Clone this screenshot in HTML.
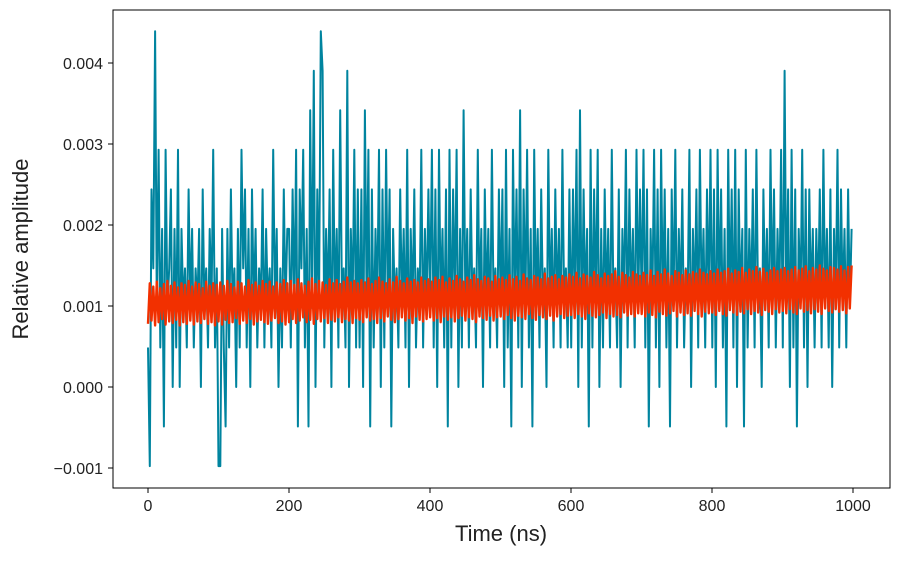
<!DOCTYPE html>
<html><head><meta charset="utf-8"><style>
body{margin:0;background:#fff;}
svg text{font-family:"Liberation Sans",sans-serif;fill:#222;}
</style></head><body>
<svg id="chart" width="897" height="556" xmlns="http://www.w3.org/2000/svg">
<rect x="0" y="0" width="897" height="556" fill="#fff"/>
<g id="series"></g>
<rect x="113" y="10" width="777" height="478" fill="none" stroke="#000" stroke-width="1"/>
<g id="axes"></g>
<text x="501" y="541" font-size="22" text-anchor="middle">Time (ns)</text>
<text transform="translate(28,249) rotate(-90)" font-size="22" text-anchor="middle">Relative amplitude</text>
</svg>
<script>
const xTicks=[0,200,400,600,800,1000];
const yTicks=[-1,0,1,2,3,4];
const yTickLabels=["−0.001","0.000","0.001","0.002","0.003","0.004"];
// measured signal in quantization levels (1 level = 0.000488)
const measuredStep=0.488;
const measuredLevels=[1,-2,5,3,9,2,6,1,4,-1,6,2,3,5,0,4,1,6,0,4,2,3,1,5,2,4,1,3,2,4,0,5,2,3,1,4,2,6,1,3,
-2,-2,4,1,-1,4,1,5,2,3,0,4,1,6,3,5,1,4,0,5,2,4,1,3,2,5,1,4,2,3,1,6,2,4,0,3,1,5,2,4,
4,1,5,2,6,-1,5,3,6,1,4,-1,7,2,8,0,5,2,9,8,1,4,2,5,0,6,2,4,1,7,2,3,1,8,0,4,2,6,1,5,
1,5,0,7,2,6,-1,5,1,4,2,6,0,5,1,6,2,5,-1,4,2,3,1,5,2,4,1,6,0,4,2,5,1,3,2,6,1,4,2,5,
2,6,1,5,0,6,2,4,1,5,-1,6,1,5,2,6,0,4,1,7,2,4,1,5,2,3,1,6,2,4,0,5,2,4,1,6,2,3,1,5,
2,5,0,6,1,4,-1,6,2,5,1,7,0,5,2,6,1,4,-1,6,2,4,1,5,2,3,0,6,2,4,1,5,2,4,1,6,2,3,1,5,
1,5,2,6,0,7,1,5,2,4,-1,6,1,5,2,6,0,4,1,5,2,4,1,6,2,3,1,5,0,4,2,6,1,5,2,4,1,6,2,5,
2,6,1,5,-1,4,2,6,1,5,0,6,2,5,1,4,-1,5,2,6,1,4,2,5,1,3,2,6,0,4,2,5,1,6,2,4,1,5,2,6,
1,5,0,6,2,5,1,4,-1,6,2,5,1,6,0,5,2,4,-1,6,1,4,2,5,1,6,2,3,0,5,2,4,1,6,2,5,1,4,2,6,
1,8,2,5,0,6,1,5,-1,4,2,6,1,5,0,5,2,4,1,4,2,5,1,6,2,4,1,5,0,4,2,6,1,5,2,4,1,5,2,4];
// fitted signal in units of 1e-5
const fitted=[78,128,82,124,76,130,80,122,84,127,77,131,81,125,79,129,83,123,76,128,80,126,78,131,82,124,77,129,81,127,79,122,84,130,78,125,80,128,76,126,
81,129,77,125,83,131,79,127,80,123,85,130,78,128,82,124,79,132,84,126,77,129,81,125,83,131,80,127,78,130,82,124,85,129,79,127,81,132,77,128,
80,131,84,126,79,133,82,128,86,125,80,130,83,134,78,127,84,131,81,129,85,126,79,133,83,128,81,132,86,127,80,130,84,135,82,129,79,131,85,128,
83,132,80,129,86,134,82,127,84,131,79,135,85,130,81,128,87,133,83,129,80,136,84,131,86,128,82,134,85,130,79,132,87,129,83,135,81,131,84,133,
86,130,82,135,85,132,80,136,87,129,83,134,86,131,81,137,85,133,88,130,82,135,86,132,84,138,80,133,87,131,85,136,83,134,88,130,82,137,86,133,
87,135,84,132,89,138,85,133,82,136,88,131,86,139,84,134,90,132,85,137,83,135,89,133,86,140,84,134,88,136,82,138,87,133,90,137,85,135,88,139,
89,136,85,141,90,134,87,139,84,137,91,135,88,142,86,138,89,134,92,140,85,137,90,139,87,143,89,136,86,141,92,138,88,135,90,142,87,139,91,137,
90,141,87,138,92,144,89,137,86,142,93,139,90,145,88,140,91,137,94,143,87,141,92,138,89,144,91,139,88,142,94,140,90,145,87,141,93,139,91,143,
92,140,89,145,94,141,90,143,88,146,95,140,92,144,89,142,93,147,91,141,96,145,90,143,94,148,92,142,89,146,95,141,93,144,90,147,96,143,92,145,
94,147,91,143,96,145,92,148,90,144,97,146,93,149,95,143,91,147,96,145,93,150,90,146,97,144,94,148,92,147,96,145,93,149,95,144,91,148,97,150];
const X=t=>148+t*0.705;
const Y=v=>387-v*81;
const NS="http://www.w3.org/2000/svg";
const tOf=(i,n)=>i*998/(n-1);
const measured=measuredLevels.map(k=>k*measuredStep);
const fittedVals=fitted.map(v=>v/100);
function line(arr,color,w,name){
  const p=document.createElementNS(NS,"path");
  
  
  p.setAttribute("d",arr.map((v,i)=>(i?"L":"M")+X(tOf(i,arr.length)).toFixed(1)+","+Y(v).toFixed(1)).join(""));
  p.setAttribute("fill","none");p.setAttribute("stroke",color);p.setAttribute("stroke-width",w);
  p.setAttribute("stroke-linejoin","round");
  document.getElementById("series").appendChild(p);
}
line(measured,"#00849f",2,"measured-series");
line(fittedVals,"#f23000",2.4,"fitted-series");
const ax=document.getElementById("axes");
xTicks.forEach(t=>{
  const l=document.createElementNS(NS,"line");
  
  
  l.setAttribute("x1",X(t));l.setAttribute("x2",X(t));l.setAttribute("y1",488);l.setAttribute("y2",493);l.setAttribute("stroke","#000");
  ax.appendChild(l);
  const tx=document.createElementNS(NS,"text");
  
  
  tx.setAttribute("x",X(t));tx.setAttribute("y",511);tx.setAttribute("font-size","16");tx.setAttribute("text-anchor","middle");
  tx.textContent=t;ax.appendChild(tx);
});
yTicks.forEach((v,i)=>{
  const l=document.createElementNS(NS,"line");
  
  
  l.setAttribute("x1",108);l.setAttribute("x2",113);l.setAttribute("y1",Y(v));l.setAttribute("y2",Y(v));l.setAttribute("stroke","#000");
  ax.appendChild(l);
  const tx=document.createElementNS(NS,"text");
  
  
  tx.setAttribute("x",103);tx.setAttribute("y",Y(v)+6);tx.setAttribute("font-size","16");tx.setAttribute("text-anchor","end");
  tx.textContent=yTickLabels[i];ax.appendChild(tx);
});
</script>
</body></html>
